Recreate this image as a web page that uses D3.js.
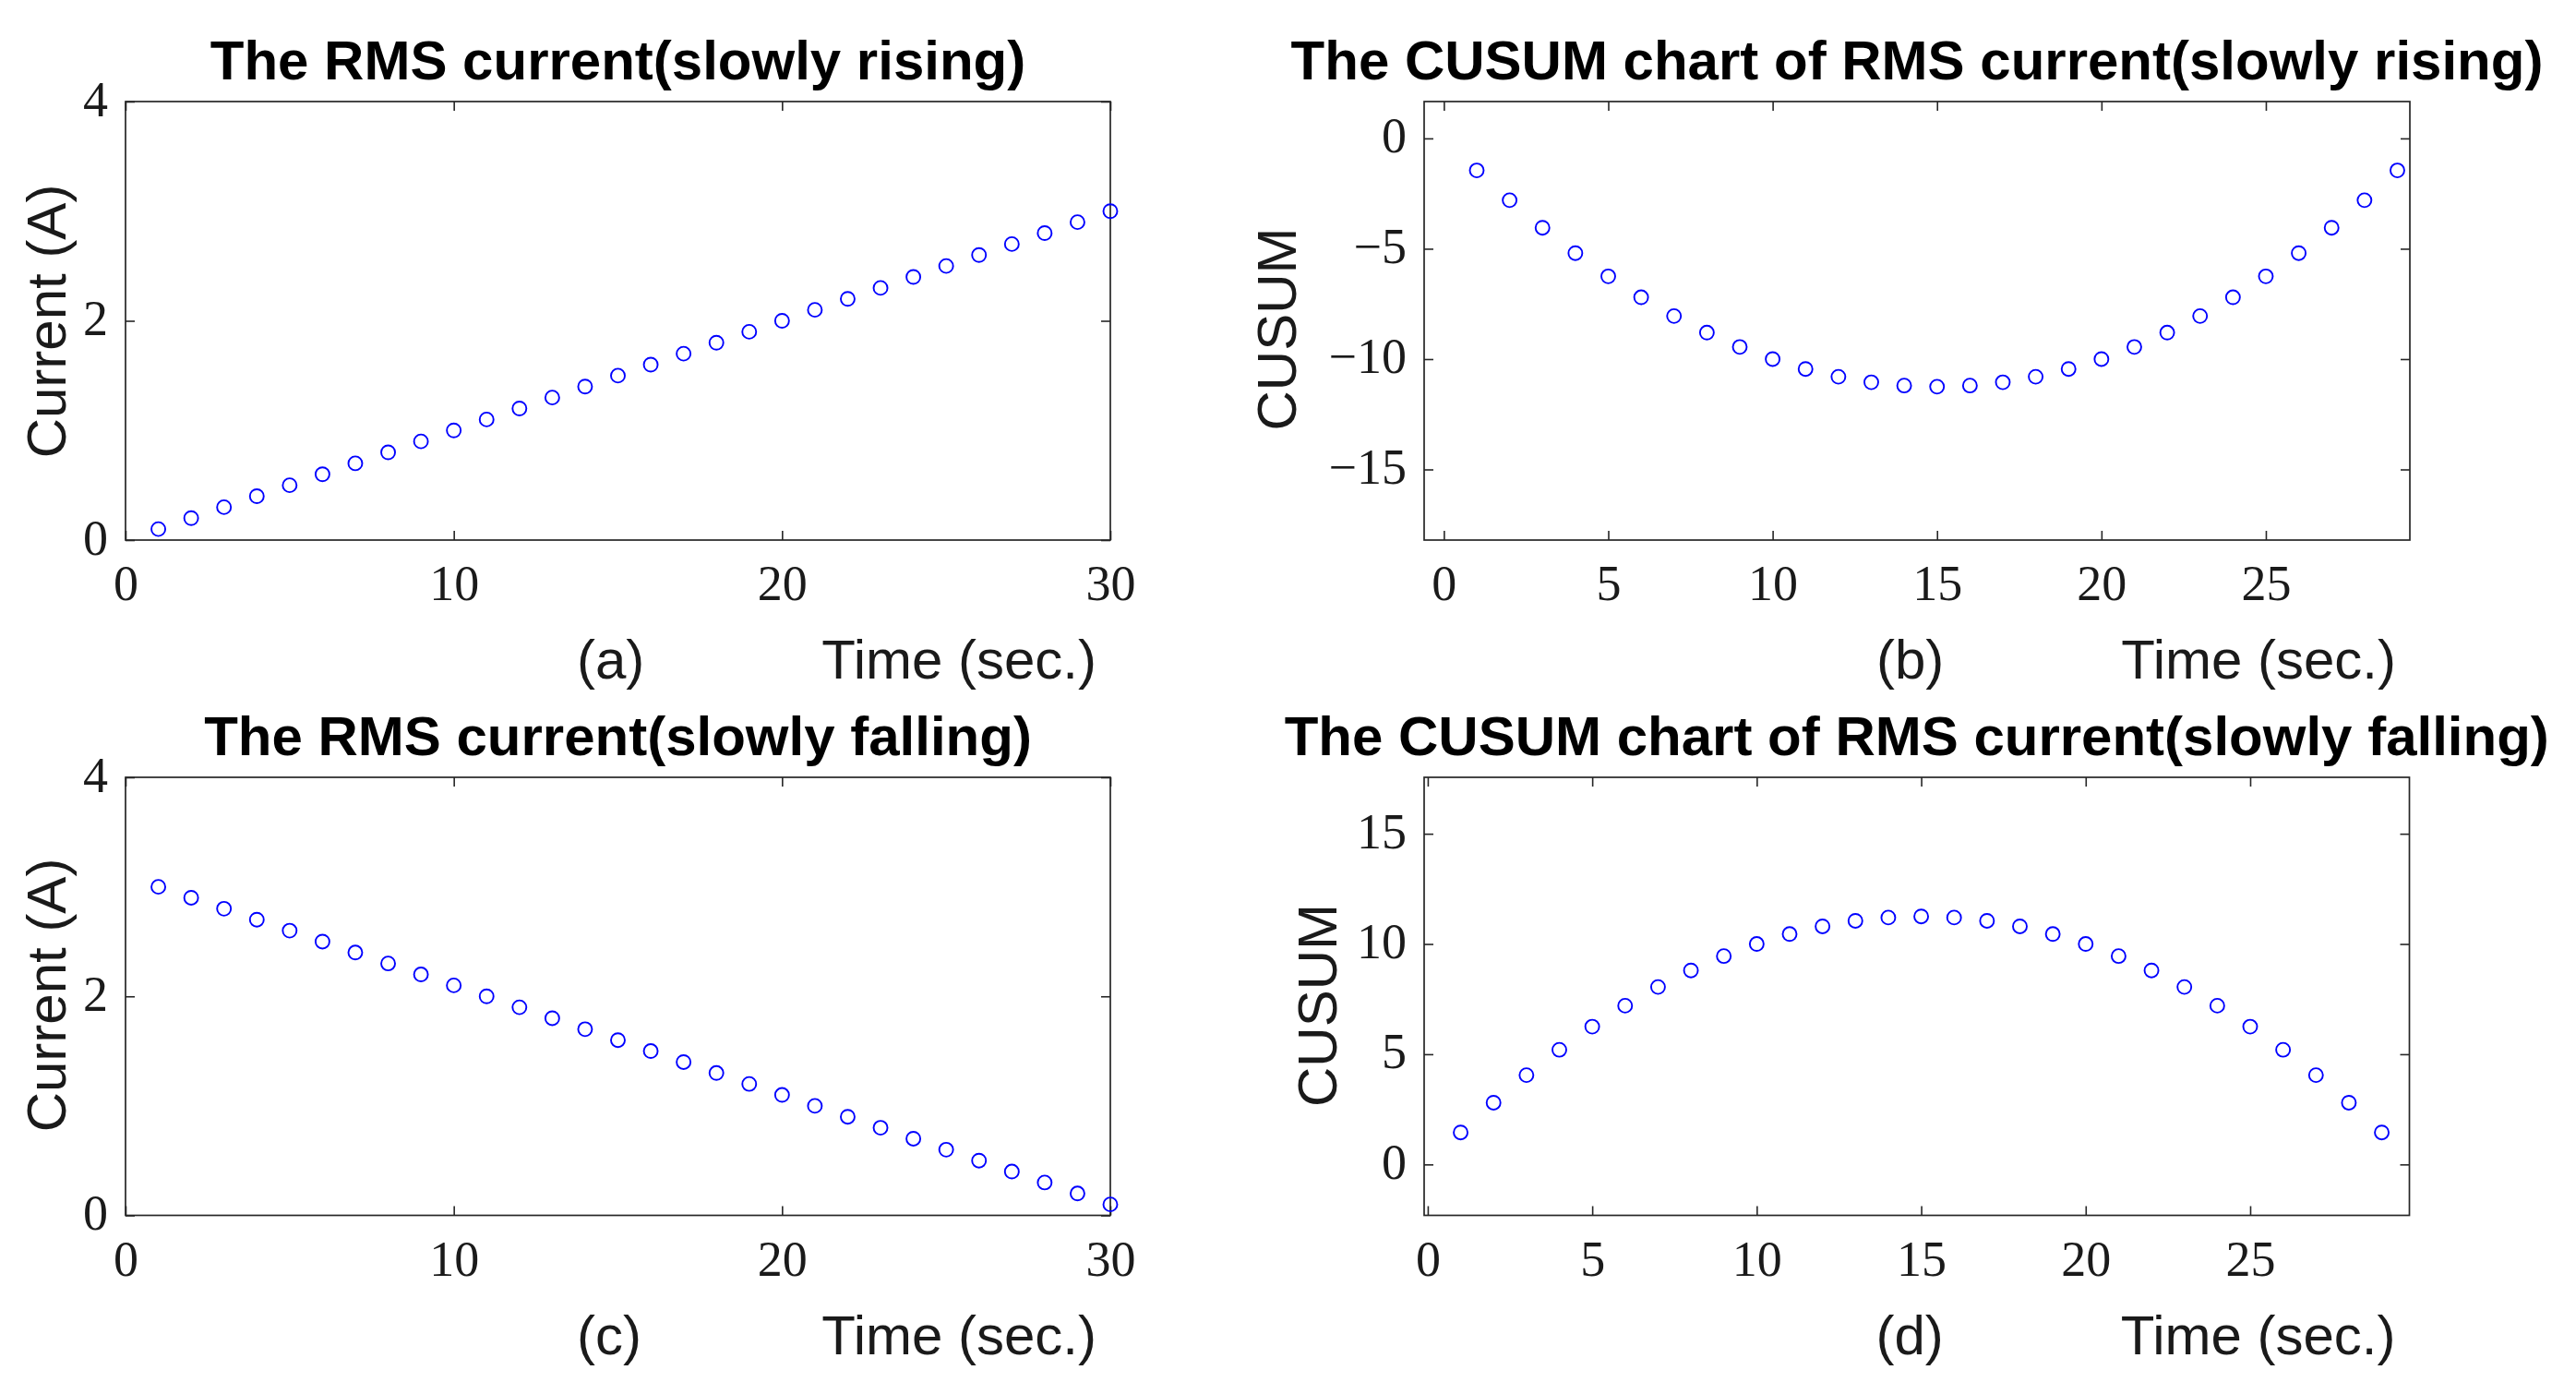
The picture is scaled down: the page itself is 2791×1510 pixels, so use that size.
<!DOCTYPE html>
<html>
<head>
<meta charset="utf-8">
<script src="https://cdn.jsdelivr.net/npm/d3@7/dist/d3.min.js"></script>
<style>
  html, body { margin: 0; padding: 0; background: #ffffff; }
  svg { display: block; }
  .serif { font-family: "Liberation Serif", "DejaVu Serif", serif; }
  .sans { font-family: "Liberation Sans", Arial, Helvetica, sans-serif; }
</style>
</head>
<body>
<svg id="chart" width="2791" height="1510"></svg>
<script>
// ---------------- data ----------------
const time30 = [1,2,3,4,5,6,7,8,9,10,11,12,13,14,15,16,17,18,19,20,21,22,23,24,25,26,27,28,29,30];
const time29 = [1,2,3,4,5,6,7,8,9,10,11,12,13,14,15,16,17,18,19,20,21,22,23,24,25,26,27,28,29];

const rmsRising  = [0.1,0.2,0.3,0.4,0.5,0.6,0.7,0.8,0.9,1.0,1.1,1.2,1.3,1.4,1.5,1.6,1.7,1.8,1.9,2.0,2.1,2.2,2.3,2.4,2.5,2.6,2.7,2.8,2.9,3.0];
const rmsFalling = [3.0,2.9,2.8,2.7,2.6,2.5,2.4,2.3,2.2,2.1,2.0,1.9,1.8,1.7,1.6,1.5,1.4,1.3,1.2,1.1,1.0,0.9,0.8,0.7,0.6,0.5,0.4,0.3,0.2,0.1];

const cusumRising  = [-1.45,-2.8,-4.05,-5.2,-6.25,-7.2,-8.05,-8.8,-9.45,-10,-10.45,-10.8,-11.05,-11.2,-11.25,-11.2,-11.05,-10.8,-10.45,-10,-9.45,-8.8,-8.05,-7.2,-6.25,-5.2,-4.05,-2.8,-1.45];
const cusumFalling = [1.45,2.8,4.05,5.2,6.25,7.2,8.05,8.8,9.45,10,10.45,10.8,11.05,11.2,11.25,11.2,11.05,10.8,10.45,10,9.45,8.8,8.05,7.2,6.25,5.2,4.05,2.8,1.45];

const xTicksRms   = [0,10,20,30];
const yTicksRms   = [0,2,4];
const xTicksCusum = [0,5,10,15,20,25];
const yTicksCusumRising  = [0,-5,-10,-15];
const yTicksCusumFalling = [0,5,10,15];

const titles = [
  "The RMS current(slowly rising)",
  "The CUSUM chart of RMS current(slowly rising)",
  "The RMS current(slowly falling)",
  "The CUSUM chart of RMS current(slowly falling)"
];
const yLabels = ["Current (A)", "CUSUM", "Current (A)", "CUSUM"];
const panelTags = ["(a)", "(b)", "(c)", "(d)"];
const xLabel = "Time (sec.)";

// ---------------- layout ----------------
const svg = d3.select("#chart");
const FRAME = "#262626";
const BLUE = "#0000ff";

const panels = [
  { left: 136,  right: 1203,   top: 110, bottom: 585,    xdom: [0, 30],      ydom: [0, 4],
    xs: time30, ys: rmsRising,  xt: xTicksRms,   yt: yTicksRms,   ylx: 71,    yly: 348 },
  { left: 1543, right: 2611,   top: 110, bottom: 585,    xdom: [-0.6, 29.38], ydom: [-18.2, 1.67],
    xs: time29, ys: cusumRising, xt: xTicksCusum, yt: yTicksCusumRising, ylx: 1404, yly: 356.5 },
  { left: 136,  right: 1203,   top: 842, bottom: 1316.5, xdom: [0, 30],      ydom: [0, 4],
    xs: time30, ys: rmsFalling, xt: xTicksRms,   yt: yTicksRms,   ylx: 71,    yly: 1078 },
  { left: 1543, right: 2610.5, top: 842, bottom: 1316.5, xdom: [-0.11, 29.84], ydom: [-2.31, 17.56],
    xs: time29, ys: cusumFalling, xt: xTicksCusum, yt: yTicksCusumFalling, ylx: 1447.5, yly: 1089 }
];

panels.forEach((p, i) => {
  const x = d3.scaleLinear().domain(p.xdom).range([p.left, p.right]);
  const y = d3.scaleLinear().domain(p.ydom).range([p.bottom, p.top]);
  const g = svg.append("g");
  const TL = 10;

  const gb = g.append("g").attr("transform", `translate(0,${p.bottom})`)
    .call(d3.axisBottom(x).tickValues(p.xt).tickSizeInner(-TL).tickSizeOuter(0).tickFormat(d3.format("d")));
  const gt = g.append("g").attr("transform", `translate(0,${p.top})`)
    .call(d3.axisTop(x).tickValues(p.xt).tickSizeInner(-TL).tickSizeOuter(0).tickFormat(""));
  const gl = g.append("g").attr("transform", `translate(${p.left},0)`)
    .call(d3.axisLeft(y).tickValues(p.yt).tickSizeInner(-TL).tickSizeOuter(0).tickFormat(d3.format("d")));
  const gr = g.append("g").attr("transform", `translate(${p.right},0)`)
    .call(d3.axisRight(y).tickValues(p.yt).tickSizeInner(-TL).tickSizeOuter(0).tickFormat(""));

  [gb, gt, gl, gr].forEach(a => {
    a.attr("font-family", null).attr("font-size", null);
    a.select(".domain").remove();
    a.selectAll(".tick line").attr("stroke", FRAME).attr("stroke-width", 1.6);
  });
  gb.selectAll(".tick text")
    .attr("class", "serif")
    .attr("y", 65).attr("dy", 0)
    .attr("font-size", 54).attr("fill", "#1a1a1a");
  gl.selectAll(".tick text")
    .attr("class", "serif")
    .attr("x", -19).attr("y", 15).attr("dy", 0)
    .attr("font-size", 54).attr("fill", "#1a1a1a");
  [gt, gr].forEach(a => a.selectAll(".tick text").remove());

  g.append("rect")
    .attr("x", p.left).attr("y", p.top)
    .attr("width", p.right - p.left).attr("height", p.bottom - p.top)
    .attr("fill", "none").attr("stroke", FRAME).attr("stroke-width", 1.7);

  g.append("g").selectAll("circle")
    .data(p.xs.map((t, k) => [t, p.ys[k]]))
    .join("circle")
    .attr("cx", d => x(d[0])).attr("cy", d => y(d[1]))
    .attr("r", 7.5)
    .attr("fill", "none").attr("stroke", BLUE).attr("stroke-width", 1.9);

  g.append("text").attr("class", "sans")
    .attr("x", (p.left + p.right) / 2).attr("y", p.top - 24)
    .attr("text-anchor", "middle")
    .attr("font-weight", "bold").attr("font-size", 60)
    .attr("fill", "#000").text(titles[i]);

  g.append("text").attr("class", "sans")
    .attr("transform", `translate(${p.ylx},${p.yly}) rotate(-90)`)
    .attr("text-anchor", "middle")
    .attr("font-size", 60)
    .attr("fill", "#1a1a1a").text(yLabels[i]);

  g.append("text").attr("class", "sans")
    .attr("x", p.right - 578).attr("y", p.bottom + 150)
    .attr("font-size", 60)
    .attr("fill", "#1a1a1a").text(panelTags[i]);
  g.append("text").attr("class", "sans")
    .attr("x", p.right - 15).attr("y", p.bottom + 150)
    .attr("text-anchor", "end")
    .attr("font-size", 60)
    .attr("fill", "#1a1a1a").text(xLabel);
});
</script>
</body>
</html>
